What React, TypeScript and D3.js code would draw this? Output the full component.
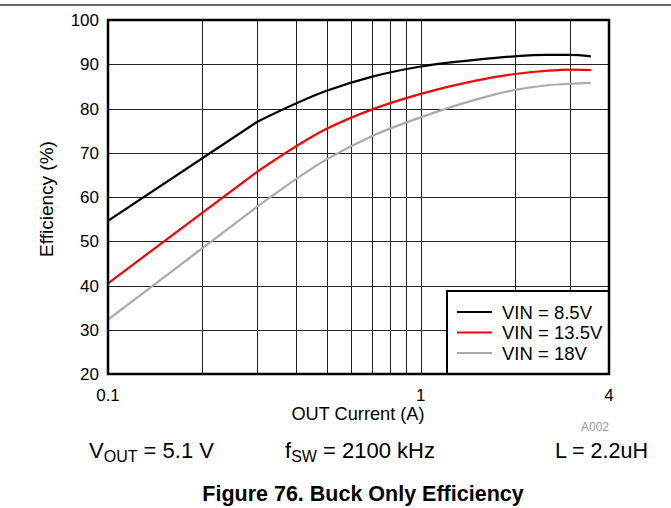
import * as d3 from 'd3';

const currents = [0.1, 0.3, 0.5, 0.7, 1, 1.5, 2, 2.5, 3, 3.5];
const vin85 = [54.6, 77, 84, 87.2, 89.5, 91, 91.8, 92.1, 92.1, 91.8];
const vin135 = [40.5, 65.7, 75.4, 79.8, 83.3, 86.3, 87.8, 88.5, 88.8, 88.7];
const vin18 = [32.3, 57.8, 68.5, 73.8, 78, 82, 84.2, 85.2, 85.6, 85.8];

const seriesNames = ['VIN = 8.5V', 'VIN = 13.5V', 'VIN = 18V'];
const seriesColors = ['#000000', '#ff0000', '#aaaaaa'];

const xGrid = [0.2, 0.3, 0.4, 0.5, 0.6, 0.7, 0.8, 0.9, 1, 2, 3];
const xTickLabels = [0.1, 1, 4];
const yTicks = [20, 30, 40, 50, 60, 70, 80, 90, 100];

const font = '"Liberation Sans", Arial, Helvetica, sans-serif';

const App = () => {
    const margin = { left: 108, right: 609, top: 20, bottom: 374 };

    const x = d3.scaleLog().domain([0.1, 4]).range([margin.left, margin.right]);
    const y = d3.scaleLinear().domain([20, 100]).range([margin.bottom, margin.top]);

    // straight part below 0.3 A, smooth above
    const kink = currents.indexOf(0.3);
    const straight = d3.line<[number, number]>()
        .x(d => x(d[0]))
        .y(d => y(d[1]));
    const smooth = d3.line<[number, number]>()
        .x(d => x(d[0]))
        .y(d => y(d[1]))
        .curve(d3.curveMonotoneX);

    const pathFor = (vals: number[]) => {
        const pts: [number, number][] = currents.map((c, i) => [c, vals[i]]);
        const a = straight(pts.slice(0, kink + 1)) || '';
        const b = (smooth(pts.slice(kink)) || '').replace(/^M[^A-Za-z]*/, '');
        return a + b;
    };

    const series = [vin85, vin135, vin18];

    const legendX = 447;
    const legendY = 291;

    return (
        <svg width={671} height={508} style={{ position: 'absolute', left: 0, top: 0 }} fontFamily={font}>
            <rect width={671} height={508} fill="#fff" />
            <line x1={0} x2={671} y1={5} y2={5} stroke="#333" strokeWidth={1.5} />

            {/* grid */}
            {xGrid.map(v => (
                <line key={'gx' + v} x1={Math.round(x(v)) + 0.5} x2={Math.round(x(v)) + 0.5}
                    y1={margin.top} y2={margin.bottom} stroke="#222" strokeWidth={1} />
            ))}
            {yTicks.slice(1, -1).map(v => (
                <line key={'gy' + v} x1={margin.left} x2={margin.right}
                    y1={Math.round(y(v)) + 0.5} y2={Math.round(y(v)) + 0.5} stroke="#222" strokeWidth={1} />
            ))}

            <defs>
                <clipPath id="plotclip">
                    <rect x={margin.left} y={margin.top} width={margin.right - margin.left} height={margin.bottom - margin.top} />
                </clipPath>
            </defs>
            <g clipPath="url(#plotclip)">
                {series.map((s, i) => (
                    <path key={'s' + i} d={pathFor(s)} fill="none" stroke={seriesColors[i]} strokeWidth={2.2} strokeLinejoin="round" />
                ))}
            </g>

            {/* legend */}
            <rect x={legendX} y={legendY} width={margin.right - legendX} height={margin.bottom - legendY}
                fill="#fff" stroke="#000" strokeWidth={2} />
            {seriesNames.map((n, i) => (
                <g key={'lg' + i} transform={`translate(${legendX + 10},${legendY + 21 + i * 20.5})`}>
                    <line x1={0} x2={35} y1={0} y2={0} stroke={seriesColors[i]} strokeWidth={2.2} />
                    <text x={45} y={6.5} fontSize={18.5} fill="#000">{n}</text>
                </g>
            ))}

            {/* frame */}
            <rect x={margin.left} y={margin.top} width={margin.right - margin.left} height={margin.bottom - margin.top}
                fill="none" stroke="#000" strokeWidth={2.5} />

            {/* y ticks */}
            {yTicks.map(v => (
                <text key={'yt' + v} x={99} y={y(v) + 6} fontSize={17} textAnchor="end" fill="#000">{v}</text>
            ))}
            {/* x ticks */}
            {xTickLabels.map(v => (
                <text key={'xt' + v} x={x(v)} y={401} fontSize={17} textAnchor="middle" fill="#000">{v}</text>
            ))}

            <text x={358} y={420} fontSize={18.2} textAnchor="middle" fill="#000">OUT Current (A)</text>
            <text transform={`translate(53,199) rotate(-90)`} fontSize={19} textAnchor="middle" fill="#000">Efficiency (%)</text>
            <text x={609} y={431} fontSize={12} textAnchor="end" fill="#999">A002</text>

            <text x={89} y={458} fontSize={22} fill="#000">V<tspan fontSize={16} dy={4}>OUT</tspan><tspan dy={-4}> = 5.1 V</tspan></text>
            <text x={285} y={458} fontSize={22} fill="#000">f<tspan fontSize={16} dy={4}>SW</tspan><tspan dy={-4}> = 2100 kHz</tspan></text>
            <text x={648} y={458} fontSize={21.5} textAnchor="end" fill="#000">L = 2.2uH</text>

            <text x={363} y={501} fontSize={21.5} fontWeight="bold" textAnchor="middle" fill="#000">Figure 76. Buck Only Efficiency</text>
        </svg>
    );
};

export default App;
